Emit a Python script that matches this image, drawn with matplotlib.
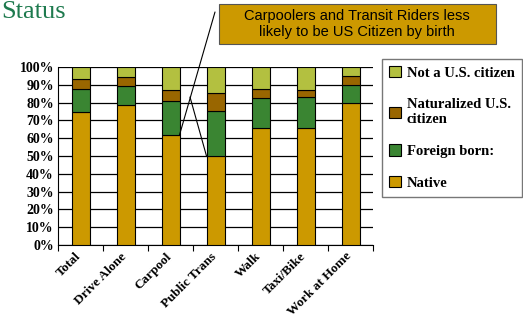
import numpy as np
import matplotlib.pyplot as plt
from matplotlib.patches import Patch, Rectangle

# Datos (fracciones)
modos = ['Total', 'Drive Alone', 'Carpool', 'Public Trans', 'Walk', 'Taxi/Bike', 'Work at Home']
native = [0.745, 0.786, 0.618, 0.50, 0.655, 0.659, 0.796]
foreign = [0.129, 0.109, 0.191, 0.253, 0.173, 0.172, 0.103]
naturalized = [0.056, 0.050, 0.061, 0.099, 0.048, 0.042, 0.052]
not_citizen = [0.070, 0.055, 0.130, 0.148, 0.124, 0.127, 0.049]

series = [native, foreign, naturalized, not_citizen]
nombres = ['Native', 'Foreign born:', 'Naturalized U.S.\ncitizen', 'Not a U.S. citizen']
colores = ['#CC9900', '#3A8532', '#996600', '#B3C040']

serif = 'Liberation Serif'

fig = plt.figure(figsize=(5.23, 3.19), dpi=100)
ax = fig.add_axes([58 / 523, 1 - 245 / 319, (373 - 58) / 523, (245 - 67) / 319])

x = np.arange(len(modos))
base = np.zeros(len(modos))
for vals, nom, col in zip(series, nombres, colores):
    ax.bar(x, vals, width=0.4, bottom=base, color=col, edgecolor='black',
           linewidth=0.8, label=nom, zorder=3)
    base += np.array(vals)

ax.set_xlim(-0.5, len(modos) - 0.5)
ax.set_ylim(0, 1)
ax.set_yticks(np.arange(0, 1.01, 0.1))
ax.set_yticklabels([f'{int(round(v * 100))}%' for v in np.arange(0, 1.01, 0.1)],
                   fontfamily=serif, fontweight='bold', fontsize=10)
ax.yaxis.grid(True, color='black', linewidth=0.9, zorder=0)
ax.set_xticks(np.arange(len(modos) + 1) - 0.5)
ax.set_xticklabels([])
ax.tick_params(axis='x', length=4, direction='out')
ax.tick_params(axis='y', length=0, pad=3)
for lado in ['top', 'right']:
    ax.spines[lado].set_visible(False)
for i, m in enumerate(modos):
    ax.text(i - 0.12, -0.03, m, rotation=45, ha='right', va='top',
            rotation_mode='anchor', fontfamily=serif, fontweight='bold', fontsize=9.5)

# Leyenda
handles = [Patch(facecolor=c, edgecolor='black', linewidth=0.8) for c in colores][::-1]
leg = fig.legend(handles, nombres[::-1], loc='upper left',
                 bbox_to_anchor=(382 / 523, 1 - 59 / 319), frameon=True,
                 prop={'family': serif, 'weight': 'bold', 'size': 10.5},
                 handlelength=0.8, handleheight=0.8, handletextpad=0.4,
                 labelspacing=1.25, borderpad=0.5, fancybox=False, borderaxespad=0)
leg.get_frame().set_edgecolor('#555555')
leg.get_frame().set_linewidth(1.0)

# Titulo (recortado)
fig.text(0.003, 1 - 1 / 319, 'Status', color='#1E7A4E', fontfamily=serif,
         fontsize=19, ha='left', va='top')

# Anotacion
fig.add_artist(Rectangle((219 / 523, 1 - 44 / 319), (496 - 219) / 523, 40 / 319,
                         transform=fig.transFigure, facecolor='#CC9900',
                         edgecolor='#555555', linewidth=0.8))
fig.text(357 / 523, 1 - 24 / 319,
         'Carpoolers and Transit Riders less\nlikely to be US Citizen by birth',
         ha='center', va='center', fontsize=10.5, fontfamily='Liberation Sans',
         linespacing=1.1)
ax.annotate('', xy=(2.2, native[2]), xycoords='data',
            xytext=(215 / 523, 1 - 12 / 319), textcoords='figure fraction',
            arrowprops=dict(arrowstyle='-', color='black', linewidth=0.8,
                            shrinkA=0, shrinkB=0), annotation_clip=False)
ax.annotate('', xy=(2.8, native[3]), xycoords='data',
            xytext=(190 / 523, 1 - 97 / 319), textcoords='figure fraction',
            arrowprops=dict(arrowstyle='-', color='black', linewidth=0.8,
                            shrinkA=0, shrinkB=0), annotation_clip=False)

fig.savefig('out.png', dpi=100)
